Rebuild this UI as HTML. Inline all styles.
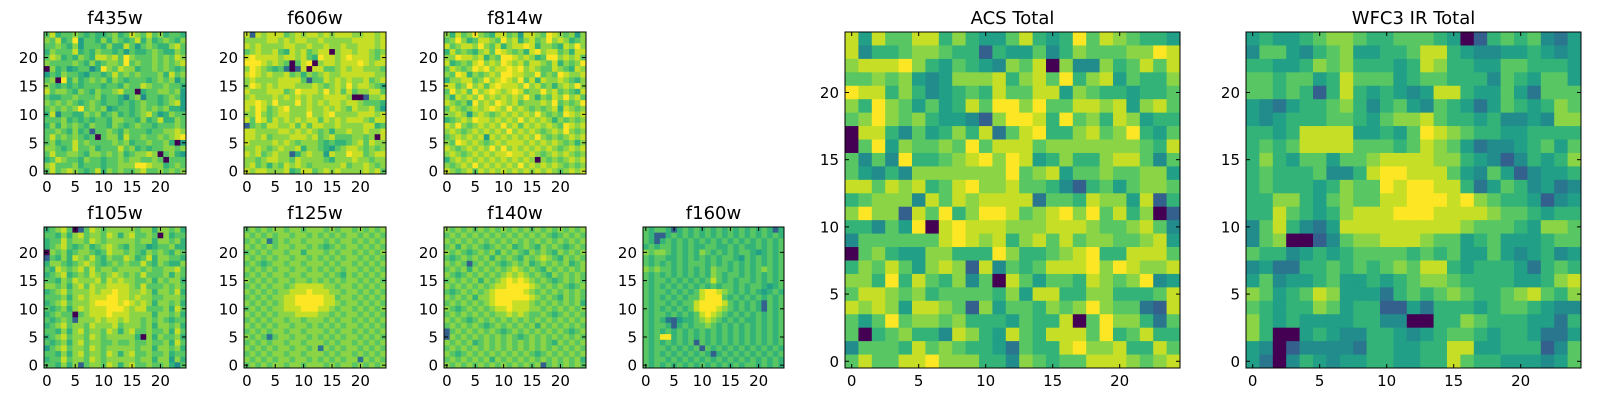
<!DOCTYPE html>
<html><head><meta charset="utf-8"><style>
html,body{margin:0;padding:0;background:#fff;}
svg{display:block;font-family:"DejaVu Sans","Liberation Sans",sans-serif;}
</style></head><body>
<svg id="fig" width="1600" height="400" viewBox="0 0 1600 400" xmlns="http://www.w3.org/2000/svg"></svg>
<script>
// ---- data: rows listed top (y=24) to bottom (y=0), digits 0..9 = relative intensity ----
const f435w=["6856676565567568768675665","7685694665757656857567657","6676574666575586467655786","5766685657665646556765576","6875657658878697666767687","7666676575677696766767678","0756456635976877566767656","4657665466568676766675867","6709575676757656665676746","7656565666566576687667665","8677657657667866056677674","6556676667566536736656764","7676765676566565676656784","6767679676745665676767554","5836655767567565678645766","6667565656657766575685576","5757676576657656766566676","6676575616676576665667787","6867676560677586676676789","6756686766667675667667504","7765686675666867565667767","6866776577676756778706754","5687665766566767766760666","7866675666566777998775676","6867876568576766786676767"];
const f606w=["8187888678788787888778878","7777887878877877777888878","8787777887787787787788878","6787786587867880788788767","8988887887865988789888768","9998787606890788788898788","7987656201808866787887776","8987877867576787788888877","7877778888616687878778678","7987878887778767879788765","8777888679888797868677886","7877787878787788887001778","8898797779787878878876665","8798678977787787876877864","7797678877797789777788878","8698687878788687878887688","1676887786868877877778856","8877778878787675778778778","8878677788878678666776708","8777787876777656556786877","7787678778577654678876767","8786787715787748779886788","7767887768777765777877677","7867576878767777786778767","8788777856886787877778786"];
const f814w=["7586797658867488769876747","6797568876978578679787567","8678879768578898577658797","5867657869876758978867588","7798878576998787569978786","8567689787987868876857679","6876798978898978766876587","7698576787998877967698778","5778867978987968587787657","8867978689888797867578797","6978697898789867797867658","7587879787878797576879786","8767597879878677787967679","6876787898797876767858767","7787478767878787976769878","5678798878787978787576767","8797678787978687878769878","7876787878797878767879767","6787878487878787976767878","7698787678788878787876757","8767878797978787878767878","7876787878898878767878767","5787878787878787076767878","7678797878787978787876767","8767868787878787878767878"];
const f105w=["5678601687677777677577675","6657578677687578667607566","5668677687677777677577675","5678656756787657664566755","0767567765687767657676576","1657587686576687568577665","5776567876567676686576557","6587678686776777767667786","5678567687678767686667576","6657687778687877667576775","7767578687788887686667676","5678677787889887787577685","6667578788899887877667776","5678677789999898787577675","6567578788899987886667586","5676606788898887777577675","6567617778788787767676566","5678677687778677767577675","6657578677687578667667586","5678677687677777507576675","6567578677667667667667586","4678677687677777677577675","6657578677687578667667566","5668677687677777677577475","6657571677687578667667536"];
const f125w=["6767677677677767677676767","7676767767767676767767676","6767267677677767677676767","7676767767767656767767676","6767677677577767677676767","7676767767767676767767676","6765677677677767677676767","7676767767767676767767676","6767677677677767657676767","7676767767767676767767676","6767677678888877677676767","7676767788898887767767676","6767677889999988677676767","7676767889999988767767676","6767677888999887677676767","7676767778888776767767676","6767677677677767677676767","7676767767767676767767676","6767677677677767677676767","7676267767767676767767676","6767677677677767677676767","7676767767767276767767676","6767677677677767677676767","7676767767767676767727676","6767677677677767677676767"];
const f140w=["7676767676767676767676767","6767676767676767676567676","7676767676767676767676767","6757676567675676576765676","7676567675767657676576767","6567676757676576787657676","7676167676567675676767567","6767576767678767657676767","7656767676787876765767676","6767675767898987676567676","7676767678899998767676567","6567676789999987676767676","7676757789999998767657676","6767676789998887676767675","7656767678898887767676767","6767676767787876676567676","7676567676767676767676767","6767676567676767576767676","1676767676567676767676567","1767676767676567676767676","7676756767676767676576767","6767676767676767676767676","7656767676767676567676767","6767676757676767676767675","7676767676767676716767676"];
const f160w=["6566515656565656565656515","6511565656565656565656565","6515656565656565656565656","5656656565566556565565656","7677656565765656566545656","6566556565656566546565656","6565656566656565656565656","7676656565657665656567656","6565656565657656656565656","6566565656568656566565656","6565656565656566565665456","6566565656899876565654565","6565656566899965656565656","6566565668999986565651656","6565656568999876565651656","6566565656898765656565656","6565214556787656565565656","6566515656676565656565656","6565656565656565656565656","6569956565656565656565656","6565656561656565656565656","6566565656165656565656565","6565656565651565656565656","6566565656565656565656565","6565656565656565656656565"];
const acsTotal=["8486688575446854596876554","8355677655154463576667798","7888975465437680733756868","6676743477785786957846557","9885753456586688476554556","7597646458699796688784786","6797675443179985967587455","0885364575826895578679546","0694766769688867777777658","6363955678979845755788636","6435377777779678466766774","8868785689778665315646776","5677738687888826658774815","7977186957998678979685701","5536490898887778887667863","3666666898785786867766784","0675447755597556789558886","5768647871836568889798778","7759586573608646658767934","6887675666657488557755568","8787488761746657679766218","6469677675554655806977526","6056755387548658886956855","3666586765542655897785586","6866889777553765668887678"];
const wfc3Total=["4544567765566654015656324","3664356744556885433445434","5544576755545875544665554","6656645866645665553654664","6656515854543488544642666","4324556753564365424654576","4345556654677865545334377","5545888844546987655445555","5656888866656876423345646","5754664667888877543135457","5655563358998886436413445","5655545766989988524653423","5577546766889998976554134","5586545788899988887665455","3685324888888888766654776","3670013677888766456444566","6553454566665656446434534","3422556565676885455542565","4634456445456776555544578","7645687444256567655678657","6545576455114255545665433","7545444455330055765554425","7500454335543456654554224","4301333325544558844555136","4203543445544558655444346"];
const tickValues=[0,5,10,15,20];
const panels=[
 {name:"f435w",x:44,y:32,w:142,h:142,data:f435w},
 {name:"f606w",x:244,y:32,w:142,h:142,data:f606w},
 {name:"f814w",x:444,y:32,w:142,h:142,data:f814w},
 {name:"f105w",x:44,y:227,w:142,h:141,data:f105w},
 {name:"f125w",x:244,y:227,w:142,h:141,data:f125w},
 {name:"f140w",x:444,y:227,w:142,h:141,data:f140w},
 {name:"f160w",x:643,y:227,w:141,h:141,data:f160w},
 {name:"ACS Total",x:845,y:32,w:335,h:336,data:acsTotal},
 {name:"WFC3 IR Total",x:1246,y:32,w:335,h:336,data:wfc3Total}
];
const VIR=[[68,1,84],[72,35,116],[64,67,135],[52,94,141],[41,120,142],[32,144,140],[34,167,132],[68,190,112],[121,209,81],[189,222,38],[253,231,37]];
function viridis(t){t=Math.max(0,Math.min(1,t));const p=t*(VIR.length-1),i=Math.min(VIR.length-2,Math.floor(p)),f=p-i;const c=VIR[i].map((v,k)=>Math.round(v+(VIR[i+1][k]-v)*f));return `rgb(${c[0]},${c[1]},${c[2]})`;}
function colorOf(v){return v===0?viridis(0):viridis(0.22+0.78*v/9);}
const NS="http://www.w3.org/2000/svg";
const svg=document.getElementById('fig');
function mk(tag,attrs,parent){const e=document.createElementNS(NS,tag);for(const k in attrs)e.setAttribute(k,attrs[k]);(parent||svg).appendChild(e);return e;}
panels.forEach(p=>{
  const slug=p.name.toLowerCase().replace(/\s+/g,'-');
  const g=mk('g',{});
  
  
  const N=25;
  const xs=v=>p.x+(v+0.5)/N*p.w;
  const ys=v=>p.y+p.h-(v+0.5)/N*p.h;
  const cw=p.w/N,ch=p.h/N;
  for(let r=0;r<N;r++){
    let row=(p.data[r]||"").padEnd(N,'6');
    const yv=N-1-r;
    for(let c=0;c<N;c++){
      const v=parseInt(row[c]);
      const rect=mk('rect',{x:(xs(c)-cw/2).toFixed(2),y:(ys(yv)-ch/2).toFixed(2),width:(cw+0.4).toFixed(2),height:(ch+0.4).toFixed(2),fill:colorOf(v)},g);
      
      
    }
  }
  const frame=mk('rect',{x:p.x,y:p.y,width:p.w,height:p.h,fill:'none',stroke:'#000','stroke-width':1},g);
  
  
  tickValues.forEach(t=>{
    const X=xs(t),Y=ys(t);
    mk('line',{x1:X,y1:p.y+p.h,x2:X,y2:p.y+p.h-4,stroke:'#000'},g);
    mk('line',{x1:X,y1:p.y,x2:X,y2:p.y+4,stroke:'#000'},g);
    mk('line',{x1:p.x,y1:Y,x2:p.x+4,y2:Y,stroke:'#000'},g);
    mk('line',{x1:p.x+p.w,y1:Y,x2:p.x+p.w-4,y2:Y,stroke:'#000'},g);
    const xl=mk('text',{x:X,y:p.y+p.h+18,'text-anchor':'middle','font-size':15,fill:'#000'},g);
    xl.textContent=t;
    
    
    const yl=mk('text',{x:p.x-6,y:Y+5.5,'text-anchor':'end','font-size':15,fill:'#000'},g);
    yl.textContent=t;
    
    
  });
  const title=mk('text',{x:p.x+p.w/2,y:p.y-8,'text-anchor':'middle','font-size':18,fill:'#000'},g);
  title.textContent=p.name;
  
  
});
</script>
</body></html>
